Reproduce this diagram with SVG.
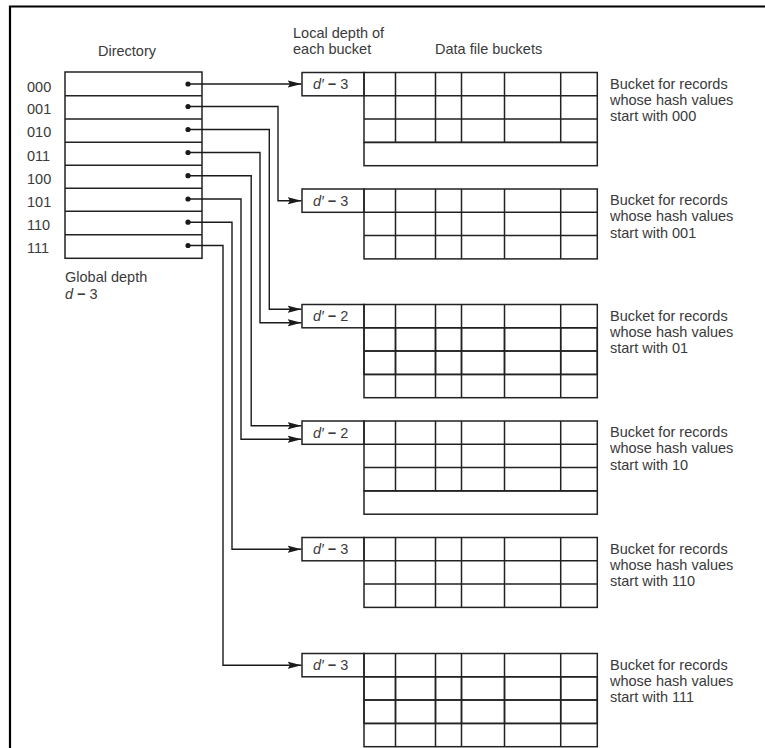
<svg xmlns="http://www.w3.org/2000/svg" width="765" height="748" viewBox="0 0 765 748">
<style>
text{font-family:"Liberation Sans",Arial,sans-serif;font-size:14.5px;fill:#3a3a3a}
.ln{stroke:#222;stroke-width:1.5;fill:none}
.cell{stroke:#222;stroke-width:1.5;fill:none}
.con{stroke:#1a1a1a;stroke-width:1.4;fill:none;marker-end:url(#ah)}
.dot{fill:#1a1a1a}
.it{font-style:italic}
.op{font-weight:bold}
</style>
<defs>
<marker id="ah" markerUnits="userSpaceOnUse" markerWidth="15" markerHeight="9" refX="14" refY="4.5" orient="auto">
<path d="M0,0.8 L14,4.5 L0,8.2 L2.5,4.5 z" fill="#1a1a1a"/>
</marker>
<g id="grid3">
<rect class="cell" x="0" y="0" width="233.3" height="69.9"/>
<path class="cell" d="M0,23.3H233.3M0,46.6H233.3M31.5,0V69.9M71.5,0V69.9M97.5,0V69.9M140.5,0V69.9M196.7,0V69.9"/>
</g>
</defs>
<path d="M10,748V6.5H765" stroke="#000" stroke-width="2.2" fill="none"/>
<g id="headers">
<text x="98" y="55.5">Directory</text>
<text x="293" y="37.5">Local depth of</text>
<text x="293" y="54">each bucket</text>
<text x="435" y="54.3">Data file buckets</text>
</g>
<g id="directory">
<rect class="ln" x="65" y="72" width="137" height="186.3"/>
<path class="ln" d="M65,95.7H202M65,119H202M65,142.3H202M65,165.3H202M65,188.3H202M65,211.3H202M65,234.7H202"/>
<text x="27" y="91.5">000</text>
<text x="27" y="114">001</text>
<text x="27" y="137">010</text>
<text x="27" y="160.5">011</text>
<text x="27" y="183.5">100</text>
<text x="27" y="206.5">101</text>
<text x="27" y="229.5">110</text>
<text x="27" y="253">111</text>
<g class="dot">
<circle cx="188" cy="84" r="2.6"/><circle cx="188" cy="106.5" r="2.6"/><circle cx="188" cy="129.5" r="2.6"/><circle cx="188" cy="152.5" r="2.6"/>
<circle cx="188" cy="175.7" r="2.6"/><circle cx="188" cy="199" r="2.6"/><circle cx="188" cy="222.2" r="2.6"/><circle cx="188" cy="245.5" r="2.6"/>
</g>
<text x="65" y="281.7">Global depth</text>
<text x="65" y="299"><tspan class="it">d</tspan> <tspan class="op">−</tspan> 3</text>
</g>
<g id="connectors">
<path class="con" d="M188,84H301.5"/>
<path class="con" d="M188,106.5H278V200.7H301.5"/>
<path class="con" d="M188,129.5H269.3V309.3H301.5"/>
<path class="con" d="M188,152.5H260V322.7H301.5"/>
<path class="con" d="M188,175.7H251.2V425.7H301.5"/>
<path class="con" d="M188,199H241V439.3H301.5"/>
<path class="con" d="M188,222.2H232V549.2H301.5"/>
<path class="con" d="M188,245.5H223V665.2H301.5"/>
</g>
<g id="bucket000">
<rect class="cell" x="302" y="72.5" width="62" height="23.3"/>
<text x="313" y="89"><tspan class="it">d′</tspan> <tspan class="op">−</tspan> 3</text>
<use href="#grid3" x="364" y="72.5"/>
<rect class="cell" x="364" y="142.4" width="233.3" height="23.3"/>
<text x="610" y="88.5">Bucket for records</text>
<text x="610" y="104.7">whose hash values</text>
<text x="610" y="121">start with 000</text>
</g>
<g id="bucket001">
<rect class="cell" x="302" y="189" width="62" height="23.3"/>
<text x="313" y="205.5"><tspan class="it">d′</tspan> <tspan class="op">−</tspan> 3</text>
<use href="#grid3" x="364" y="189"/>
<text x="610" y="205">Bucket for records</text>
<text x="610" y="221.2">whose hash values</text>
<text x="610" y="237.5">start with 001</text>
</g>
<g id="bucket01">
<rect class="cell" x="302" y="304.5" width="62" height="23.3"/>
<text x="313" y="321"><tspan class="it">d′</tspan> <tspan class="op">−</tspan> 2</text>
<use href="#grid3" x="364" y="304.5"/>
<use href="#grid3" x="364" y="327.8"/>
<text x="610" y="320.5">Bucket for records</text>
<text x="610" y="336.7">whose hash values</text>
<text x="610" y="353">start with 01</text>
</g>
<g id="bucket10">
<rect class="cell" x="302" y="421" width="62" height="23.3"/>
<text x="313" y="437.5"><tspan class="it">d′</tspan> <tspan class="op">−</tspan> 2</text>
<use href="#grid3" x="364" y="421"/>
<rect class="cell" x="364" y="490.9" width="233.3" height="23.3"/>
<text x="610" y="437">Bucket for records</text>
<text x="610" y="453.2">whose hash values</text>
<text x="610" y="469.5">start with 10</text>
</g>
<g id="bucket110">
<rect class="cell" x="302" y="537.5" width="62" height="23.3"/>
<text x="313" y="554"><tspan class="it">d′</tspan> <tspan class="op">−</tspan> 3</text>
<use href="#grid3" x="364" y="537.5"/>
<text x="610" y="553.5">Bucket for records</text>
<text x="610" y="569.7">whose hash values</text>
<text x="610" y="586">start with 110</text>
</g>
<g id="bucket111">
<rect class="cell" x="302" y="653.5" width="62" height="23.3"/>
<text x="313" y="670"><tspan class="it">d′</tspan> <tspan class="op">−</tspan> 3</text>
<use href="#grid3" x="364" y="653.5"/>
<use href="#grid3" x="364" y="676.8"/>
<text x="610" y="669.5">Bucket for records</text>
<text x="610" y="685.7">whose hash values</text>
<text x="610" y="702">start with 111</text>
</g>
</svg>
